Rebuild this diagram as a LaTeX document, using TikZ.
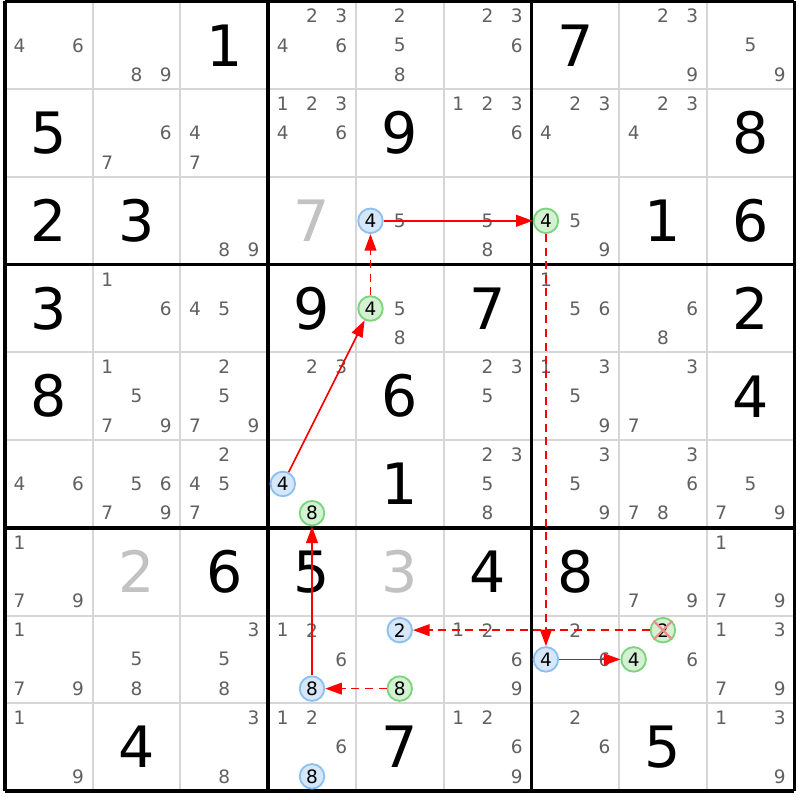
\documentclass[tikz,border=0pt]{standalone}
\usepackage{fontspec}
\setmainfont{DejaVu Sans}
\usetikzlibrary{arrows.meta,positioning,calc}

\definecolor{candgray}{HTML}{606060}
\definecolor{gridgray}{HTML}{D6D6D6}
\definecolor{solvedgray}{HTML}{C2C2C2}
\definecolor{bluefill}{HTML}{D5E7F8}
\definecolor{blueline}{HTML}{8CC0EF}
\definecolor{greenfill}{HTML}{D4F1D4}
\definecolor{greenline}{HTML}{7CD47C}
\definecolor{crossred}{HTML}{F28C8C}

\tikzset{
  given/.style={font=\fontsize{18.5}{18.5}\selectfont, text=black, inner sep=0pt},
  solved/.style={given, text=solvedgray},
  cand/.style={font=\fontsize{6}{7}\selectfont, text=candgray, inner sep=0pt},
  bluecand/.style={cand, text=black, circle, draw=blueline, fill=bluefill, line width=0.6pt, minimum size=0.28cm},
  greencand/.style={bluecand, draw=greenline, fill=greenfill},
  strong/.style={draw=red, line width=0.55pt, -{Triangle[length=5.4pt,width=3.8pt]}},
  weak/.style={strong, dash pattern=on 2.6pt off 1.8pt},
}

% candidate #4 of cell (#2,#3), style #1
\newcommand{\candat}[4]{%
  \pgfmathsetmacro\candx{#3-1+(2*mod(#4-1,3)+1)/6}%
  \pgfmathsetmacro\candy{10-#2-(2*div(#4-1,3)+1)/6}%
  \node[#1] (k#2#3#4) at (\candx,\candy) {#4};}

\begin{document}
\begin{tikzpicture}
\useasboundingbox (-0.057,-0.103) rectangle (9.063,9.017);
\fill[white] (-0.057,-0.103) rectangle (9.063,9.017);

% grid
\foreach \i in {1,2,4,5,7,8} {
  \draw[gridgray, line width=0.65pt] (\i,0) -- (\i,9);
  \draw[gridgray, line width=0.65pt] (0,\i) -- (9,\i);
}
\foreach \i in {0,3,6,9} {
  \draw[black, line width=1.1pt] (\i,0) -- (\i,9);
  \draw[black, line width=1.1pt] (0,\i) -- (9,\i);
}

% givens
\foreach \r/\c/\v in {1/3/1, 1/7/7, 2/1/5, 2/5/9, 2/9/8, 3/1/2, 3/2/3, 3/8/1, 3/9/6,
    4/1/3, 4/4/9, 4/6/7, 4/9/2, 5/1/8, 5/5/6, 5/9/4, 6/5/1,
    7/3/6, 7/4/5, 7/6/4, 7/7/8, 9/2/4, 9/5/7, 9/8/5} {
  \node[given] (g\r\c) at (\c-0.5,9.5-\r) {\v};
}
\foreach \r/\c/\v in {3/4/7, 7/2/2, 7/5/3} {
  \node[solved] (g\r\c) at (\c-0.5,9.5-\r) {\v};
}

% candidates
\foreach \r/\c/\ds in {1/1/{4,6}, 1/2/{8,9}, 1/4/{2,3,4,6}, 1/5/{2,5,8}, 1/6/{2,3,6}, 1/8/{2,3,9}, 1/9/{5,9},
    2/2/{6,7}, 2/3/{4,7}, 2/4/{1,2,3,4,6}, 2/6/{1,2,3,6}, 2/7/{2,3,4}, 2/8/{2,3,4},
    3/3/{8,9}, 3/5/{5}, 3/6/{5,8}, 3/7/{5,9},
    4/2/{1,6}, 4/3/{4,5}, 4/5/{5,8}, 4/7/{1,5,6}, 4/8/{6,8},
    5/2/{1,5,7,9}, 5/3/{2,5,7,9}, 5/4/{2,3}, 5/6/{2,3,5}, 5/7/{1,3,5,9}, 5/8/{3,7},
    6/1/{4,6}, 6/2/{5,6,7,9}, 6/3/{2,4,5,7}, 6/6/{2,3,5,8}, 6/7/{3,5,9}, 6/8/{3,6,7,8}, 6/9/{5,7,9},
    7/1/{1,7,9}, 7/8/{7,9}, 7/9/{1,7,9},
    8/1/{1,7,9}, 8/2/{5,8}, 8/3/{3,5,8}, 8/4/{1,2,6}, 8/6/{1,2,6,9}, 8/7/{2,6}, 8/8/{6}, 8/9/{1,3,7,9},
    9/1/{1,9}, 9/3/{3,8}, 9/4/{1,2,6}, 9/6/{1,2,6,9}, 9/7/{2,6}, 9/9/{1,3,9}} {
  \foreach \d in \ds {\candat{cand}{\r}{\c}{\d}}
}

% chain
\foreach \r/\c/\d in {3/5/4, 6/4/4, 8/4/8, 8/5/2, 8/7/4, 9/4/8} {
  \candat{bluecand}{\r}{\c}{\d}
}
\foreach \r/\c/\d in {3/7/4, 4/5/4, 6/4/8, 8/5/8, 8/8/2, 8/8/4} {
  \candat{greencand}{\r}{\c}{\d}
}
\draw[crossred, line width=0.7pt] (k882.north west) -- (k882.south east)
  (k882.north east) -- (k882.south west);

\draw[strong] (k354) -- (k374);
\draw[weak] (k374) -- (k874);
\draw[strong] (k874) -- (k884);
\draw[weak] (k882) -- (k852);
\draw[weak] (k858) -- (k848);
\draw[strong] (k848) -- (k648);
\draw[strong] (k644) -- (k454);
\draw[weak] (k454) -- (k354);
\end{tikzpicture}
\end{document}
